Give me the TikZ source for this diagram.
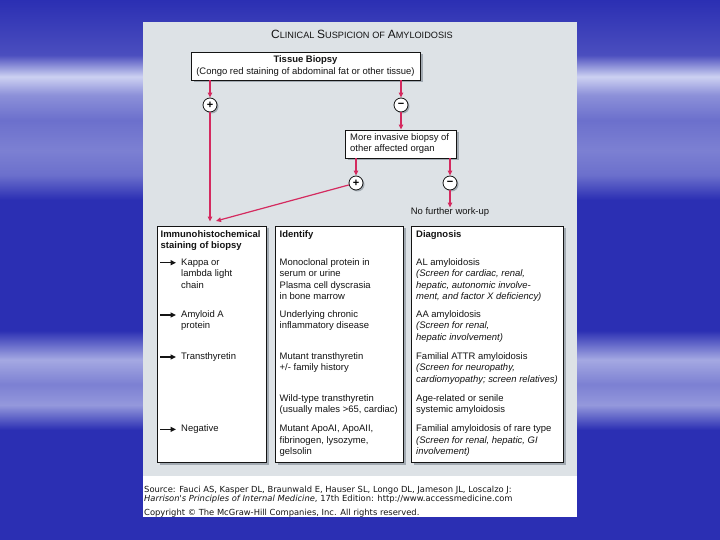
\documentclass[tikz,border=0pt]{standalone}
\usepackage{fontspec}
\setmainfont{Liberation Sans}
\newfontfamily\creditfont{DejaVu Sans}
\usetikzlibrary{arrows.meta,shadows}
\definecolor{AMSky}{HTML}{2B2FB3}
\definecolor{AMCloud}{HTML}{CDD1F2}
\definecolor{AMPanel}{HTML}{DDE2E6}
\definecolor{AMCrimson}{HTML}{D42A5F}
\definecolor{AMInk}{HTML}{141414}
\definecolor{AMShadow}{HTML}{A2AAB2}
\newcommand{\amcap}[2]{{\fontsize{12}{14}\selectfont #1}{\fontsize{9.2}{11}\selectfont #2}}
% streaks of cloud over the blue sky, bottom to top (picture maps onto 25bp--75bp)
\pgfdeclareverticalshading{amsky}{100bp}{
  color(0bp)=(AMSky); color(25bp)=(AMSky); color(35.2bp)=(AMSky);
  color(37.5bp)=(AMCloud!65!AMSky); color(39.4bp)=(AMCloud!50!AMSky);
  color(41.7bp)=(AMCloud!75!AMSky); color(44.4bp)=(AMSky);
  color(56.5bp)=(AMSky); color(58.8bp)=(AMCloud!40!AMSky);
  color(61.1bp)=(AMCloud!50!AMSky); color(63.9bp)=(AMCloud!40!AMSky);
  color(66.2bp)=(AMCloud!60!AMSky); color(67.9bp)=(AMCloud);
  color(69.9bp)=(AMSky!85!white); color(75bp)=(AMSky); color(100bp)=(AMSky)}
\tikzset{
  flow/.style={-{Triangle[length=5bp,width=4.5bp]},AMCrimson,line width=1.2bp},
  stainarrow/.style={-{Triangle[length=5.5bp,width=5bp]},AMInk,line width=1.3bp},
  card/.style={draw=AMInk,line width=0.8bp,fill=white,inner sep=0pt,
               drop shadow={shadow xshift=2.5bp,shadow yshift=-2.5bp,fill=AMShadow,opacity=1}},
  sign/.style={circle,draw=AMInk,line width=0.8bp,fill=white,minimum size=14bp,inner sep=0pt,
               font=\fontsize{11}{11}\selectfont\bfseries,
               drop shadow={shadow xshift=1.5bp,shadow yshift=-1.5bp,fill=AMShadow,opacity=1}},
  entry/.style={anchor=north west,inner sep=0pt,align=left,text=AMInk,
                font=\fontsize{9.5}{11.5}\selectfont},
  colhead/.style={entry,font=\fontsize{9.5}{11.5}\selectfont\bfseries},
  credit/.style={anchor=north west,inner sep=0pt,align=left,text=AMInk,
                 font=\creditfont\fontsize{8.4}{9.3}\selectfont},
}

\begin{document}
\begin{tikzpicture}[x=1bp,y=-1bp]
    \useasboundingbox (0,0) rectangle (720,540);
    % sky behind the slide
    \shade[shading=amsky] (0,0) rectangle (720,540);

    % figure panel
    \fill[AMPanel] (143,22) rectangle (577,476);
    \fill[white] (143,476) rectangle (577,517);

    \node[text=AMInk] (title) at (362,34.5)
      {\amcap{C}{LINICAL} \amcap{S}{USPICION} {\fontsize{9.2}{11}\selectfont OF} \amcap{A}{MYLOIDOSIS}};

    \node[card,minimum width=229bp,minimum height=28bp,align=center,text=AMInk,
          font=\fontsize{9.5}{11.5}\selectfont] (tissue) at (305.5,66)
      {\textbf{Tissue Biopsy}\\(Congo red staining of abdominal fat or other tissue)};

    \node[sign] (posA) at (210,105) {+};
    \node[sign] (negA) at (401,105) {−};

    \node[card,minimum width=111bp,minimum height=28bp] (invasive) at (400.5,144) {};
    \node[entry] (invasivetxt) at (350,132) {\strut More invasive biopsy of\\other affected organ};

    \node[sign] (posB) at (356,183) {+};
    \node[sign] (negB) at (450,183) {−};
    \node[entry,anchor=mid] (nowork) at (450,212) {No further work-up};

    % result columns
    \node[card,minimum width=109bp,minimum height=236bp] (staining) at (211.5,344) {};
    \node[card,minimum width=128bp,minimum height=236bp] (identify) at (339,344) {};
    \node[card,minimum width=152bp,minimum height=236bp] (diagnosis) at (487,344) {};

    \node[colhead] (staininghead) at (160.5,228.8) {\strut Immunohistochemical\\staining of biopsy};
    \node[entry] (kappa) at (181,257) {\strut Kappa or\\lambda light\\chain};
    \node[entry] (amyloidA) at (181,309.3) {\strut Amyloid A\\protein};
    \node[entry] (ttr) at (181,351.3) {\strut Transthyretin};
    \node[entry] (negative) at (181,423.7) {\strut Negative};
    \foreach \n/\y in {kappa/262.7,amyloidA/315,ttr/357,negative/429.4}{
      \coordinate (\n-tail) at (160,\y);
      \coordinate (\n-head) at (176,\y);
      \draw[stainarrow] (\n-tail) -- (\n-head);
    }

    \node[colhead] (identifyhead) at (279.5,228.8) {\strut Identify};
    \node[entry] (monoclonal) at (279.5,257)
      {\strut Monoclonal protein in\\serum or urine\\Plasma cell dyscrasia\\in bone marrow};
    \node[entry] (chronic) at (279.5,309.3) {\strut Underlying chronic\\inflammatory disease};
    \node[entry] (mutantttr) at (279.5,351.3) {\strut Mutant transthyretin\\+/- family history};
    \node[entry] (wildttr) at (279.5,393.3) {\strut Wild-type transthyretin\\(usually males >65, cardiac)};
    \node[entry] (rarepro) at (279.5,423.7) {\strut Mutant ApoAI, ApoAII,\\fibrinogen, lysozyme,\\gelsolin};

    \node[colhead] (diagnosishead) at (416,228.8) {\strut Diagnosis};
    \node[entry] (al) at (416,257)
      {\strut AL amyloidosis\\\textit{(Screen for cardiac, renal,}\\\textit{hepatic, autonomic involve-}\\\textit{ment, and factor X deficiency)}};
    \node[entry] (aa) at (416,309.3)
      {\strut AA amyloidosis\\\textit{(Screen for renal,}\\\textit{hepatic involvement)}};
    \node[entry] (attr) at (416,351.3)
      {\strut Familial ATTR amyloidosis\\\textit{(Screen for neuropathy,}\\\textit{cardiomyopathy; screen relatives)}};
    \node[entry] (senile) at (416,393.3) {\strut Age-related or senile\\systemic amyloidosis};
    \node[entry] (raretype) at (416,423.7)
      {\strut Familial amyloidosis of rare type\\\textit{(Screen for renal, hepatic, GI}\\\textit{involvement)}};

    % connectors
    \coordinate (stainingentry) at (216,221);
    \draw[flow] (tissue.south -| posA) -- (posA);
    \draw[flow] (tissue.south -| negA) -- (negA);
    \draw[flow,shorten >=4bp] (posA) -- (posA |- staining.north);
    \draw[flow] (negA) -- (invasive.north -| negA);
    \draw[flow] (invasive.south -| posB) -- (posB);
    \draw[flow] (invasive.south -| negB) -- (negB);
    \draw[flow] (negB) -- (nowork.north);
    \draw[flow] (posB) -- (stainingentry);

    \node[credit] (source) at (144,485.4)
      {\strut Source: Fauci AS, Kasper DL, Braunwald E, Hauser SL, Longo DL, Jameson JL, Loscalzo J:\\
       \textit{Harrison's Principles of Internal Medicine}, 17th Edition: http://www.accessmedicine.com};
    \node[credit,anchor=mid west] (copyright) at (144,513)
      {Copyright © The McGraw-Hill Companies, Inc. All rights reserved.};
  \end{tikzpicture}
\end{document}
